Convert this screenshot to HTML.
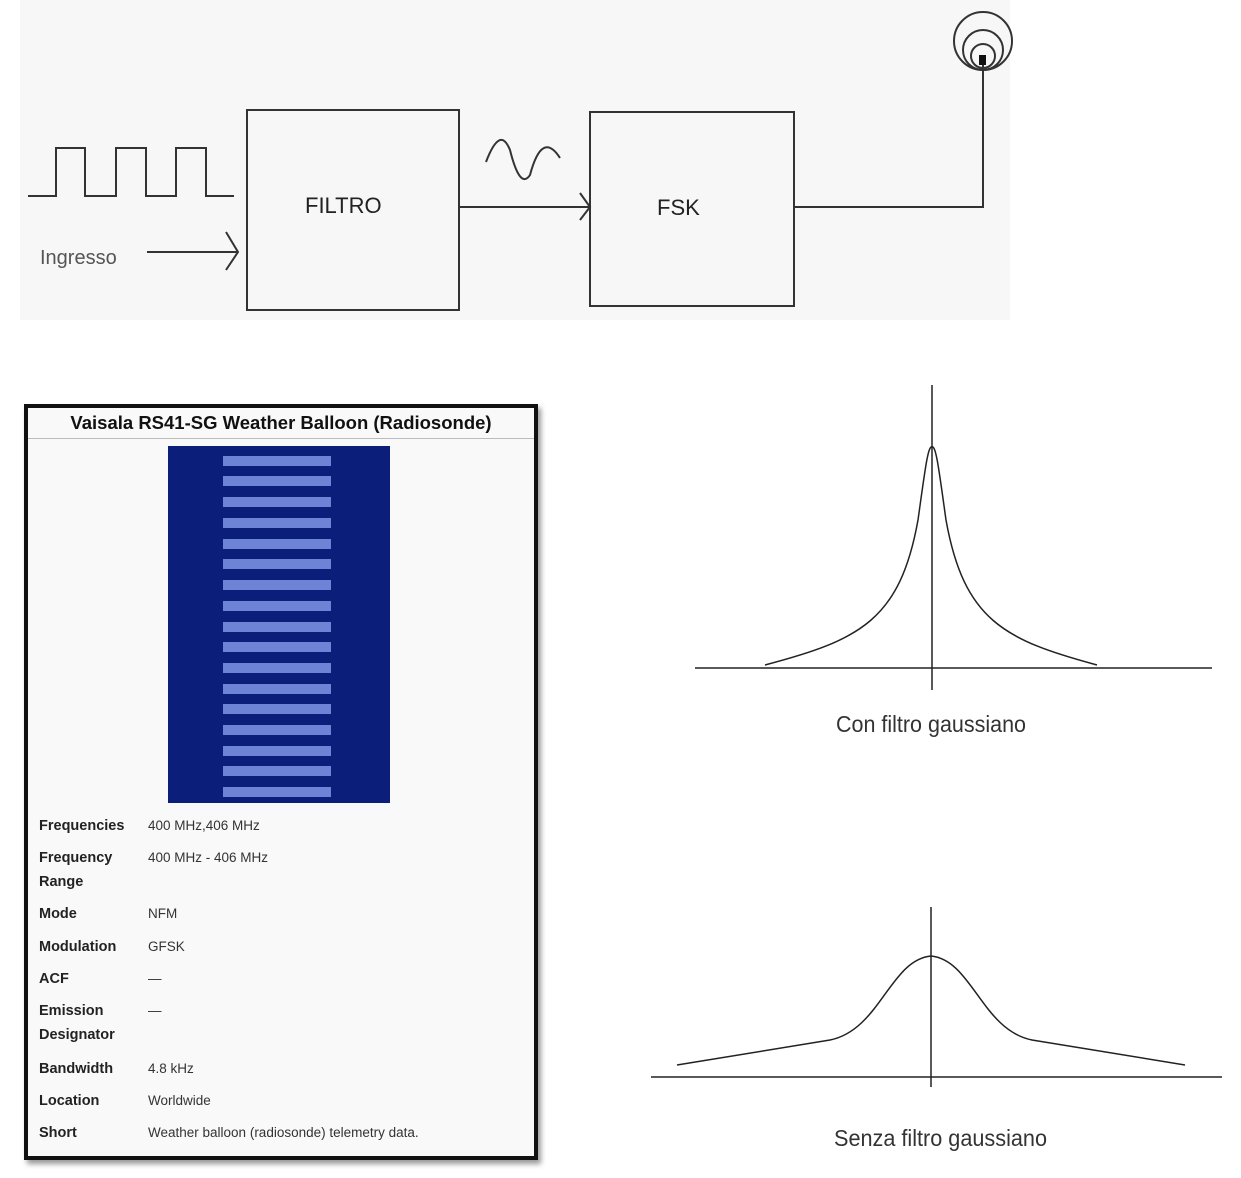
<!DOCTYPE html><html><head><style>
body{margin:0;width:1241px;height:1178px;background:#fff;position:relative;overflow:hidden;font-family:"Liberation Sans",sans-serif}
.tb{position:absolute;left:24px;top:404px;width:506px;height:748px;border:4px solid #111;background:#f9f9f9;box-shadow:3px 4px 5px #999}
.row{position:absolute;left:11px;font-size:14.5px;font-weight:bold;color:#222;line-height:24px}
.val{position:absolute;left:120px;font-size:13.5px;color:#333;line-height:24px}
</style></head><body>
<svg width="1241" height="1178" style="position:absolute;left:0;top:0">
<rect x="20" y="0" width="990" height="320" fill="#f7f7f7"/>
<g fill="none" stroke="#333" stroke-width="2">
<path d="M28 196 H56 V148 H85 V196 H116 V148 H146 V196 H176 V148 H206 V196 H234"/>
<path d="M147 252 H238 M226 232 L238 252 L226 270"/>
<rect x="247" y="110" width="212" height="200"/>
<rect x="590" y="112" width="204" height="194"/>
<path d="M459 207 H590 M580 193 L590 207 L580 220"/>
<path d="M486 162 Q500 125 510 150 Q520 190 530 175 Q542 130 560 158"/>
<path d="M794 207 H983 V64"/>
<circle cx="983" cy="41" r="29"/><circle cx="983" cy="50" r="20"/><circle cx="983" cy="56" r="12"/>
</g>
<rect x="979" y="55" width="7" height="10" fill="#111"/>
<text x="305" y="213" font-size="22" fill="#222">FILTRO</text>
<text x="657" y="215" font-size="22" fill="#222">FSK</text>
<text x="40" y="264" font-size="20" fill="#555">Ingresso</text>
<g fill="none" stroke="#222" stroke-width="1.5">
<path d="M695 668 H1212 M932 385 V690"/>
<path d="M765 665 C860 640 900 620 918 520 C925 470 928 445 932 447 C936 445 939 470 946 520 C964 620 1004 640 1097 665"/>
<path d="M651 1077 H1222 M931 907 V1087"/>
<path d="M677 1065 L830 1040 C880 1030 890 960 931 956 C972 960 982 1030 1032 1040 L1185 1065"/>
</g>
<text x="836" y="732" font-size="23" fill="#333" textLength="190" lengthAdjust="spacingAndGlyphs">Con filtro gaussiano</text>
<text x="834" y="1146" font-size="23" fill="#333" textLength="213" lengthAdjust="spacingAndGlyphs">Senza filtro gaussiano</text>
</svg>
<div class="tb">
<div style="position:absolute;left:0;top:0;width:506px;height:30px;border-bottom:1px solid #bbb;font-size:18.5px;font-weight:bold;text-align:center;line-height:30px;color:#111">Vaisala RS41-SG Weather Balloon (Radiosonde)</div>
<svg style="position:absolute;left:140px;top:38px" width="222" height="357">
<rect width="222" height="357" fill="#0b1f7a"/>
<g fill="#7f95e6" opacity="0.85">
<rect x="55" y="10" width="108" height="10"/><rect x="55" y="30" width="108" height="10"/><rect x="55" y="51" width="108" height="10"/><rect x="55" y="72" width="108" height="10"/><rect x="55" y="93" width="108" height="10"/><rect x="55" y="113" width="108" height="10"/><rect x="55" y="134" width="108" height="10"/><rect x="55" y="155" width="108" height="10"/><rect x="55" y="176" width="108" height="10"/><rect x="55" y="196" width="108" height="10"/><rect x="55" y="217" width="108" height="10"/><rect x="55" y="238" width="108" height="10"/><rect x="55" y="258" width="108" height="10"/><rect x="55" y="279" width="108" height="10"/><rect x="55" y="300" width="108" height="10"/><rect x="55" y="320" width="108" height="10"/><rect x="55" y="341" width="108" height="10"/>
</g></svg>
<div class="row" style="top:406px">Frequencies</div><div class="val" style="top:406px">400 MHz,406 MHz</div>
<div class="row" style="top:438px">Frequency<br>Range</div><div class="val" style="top:438px">400 MHz - 406 MHz</div>
<div class="row" style="top:494px">Mode</div><div class="val" style="top:494px">NFM</div>
<div class="row" style="top:527px">Modulation</div><div class="val" style="top:527px">GFSK</div>
<div class="row" style="top:559px">ACF</div><div class="val" style="top:559px">—</div>
<div class="row" style="top:591px">Emission<br>Designator</div><div class="val" style="top:591px">—</div>
<div class="row" style="top:649px">Bandwidth</div><div class="val" style="top:649px">4.8 kHz</div>
<div class="row" style="top:681px">Location</div><div class="val" style="top:681px">Worldwide</div>
<div class="row" style="top:713px">Short</div><div class="val" style="top:713px">Weather balloon (radiosonde) telemetry data.</div>
</div>
</body></html>
